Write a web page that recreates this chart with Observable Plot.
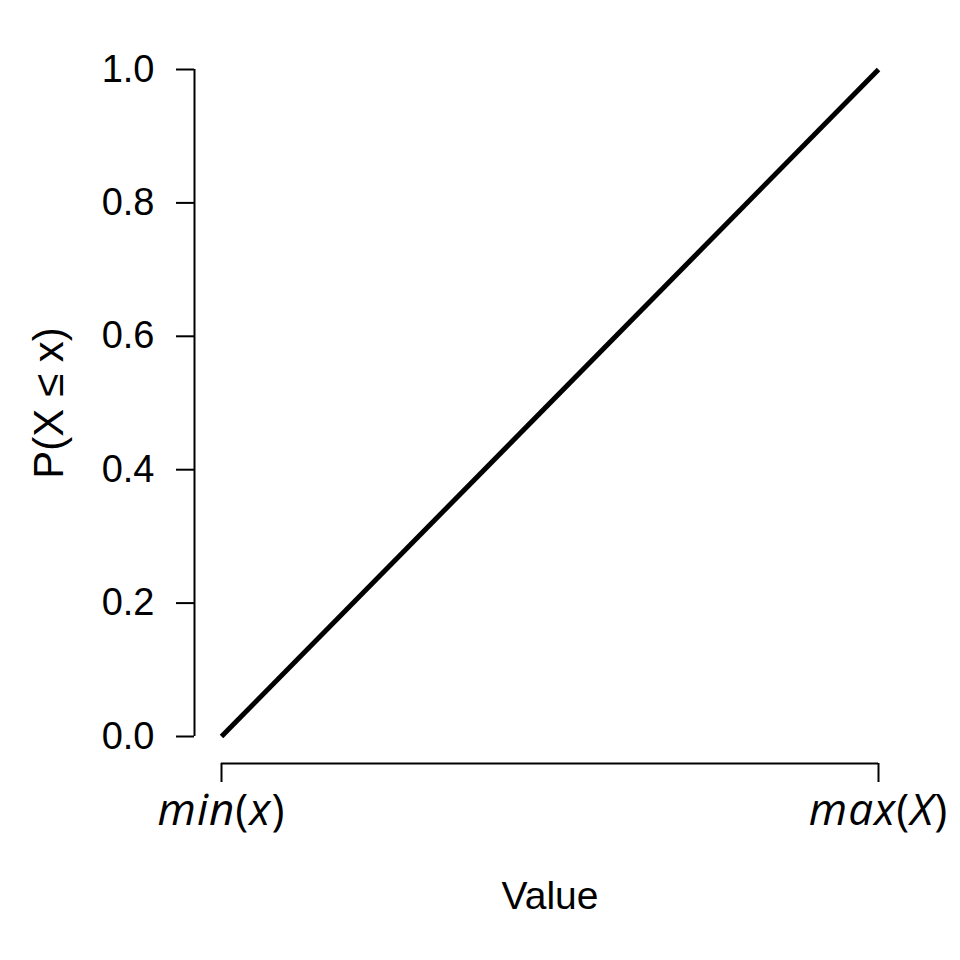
<!DOCTYPE html>
<html><head><meta charset="utf-8">
<script src="https://cdn.jsdelivr.net/npm/d3@7"></script>
<script src="https://cdn.jsdelivr.net/npm/@observablehq/plot@0.6"></script>
<style>body{margin:0;background:#fff;}</style>
</head><body>
<div id="chart"></div>
<script>
const lineX = [0, 1];
const lineY = [0, 1];
const xTicks = [0, 1];
const xTickLabels = [["min", "x"], ["max", "X"]];
const yTicks = [0, 0.2, 0.4, 0.6, 0.8, 1.0];
const xLabel = "Value";
const yLabel = "P(X ≤ x)";

const data = lineX.map((x, i) => ({x, y: lineY[i]}));

const chart = Plot.plot({
  width: 960, height: 960,
  marginLeft: 221, marginRight: 82, marginTop: 69, marginBottom: 224,
  x: {domain: [0, 1]},
  y: {domain: [0, 1]},
  style: {fontFamily: "'Liberation Sans', Arial, sans-serif", fontSize: "38px", background: "white", color: "black"},
  marks: [
    Plot.ruleX([0], {y1: 0, y2: 1, dx: -27, strokeWidth: 2}),
    Plot.axisY({ticks: yTicks, tickSize: 18, tickPadding: 22, dx: -27, tickFormat: d => d.toFixed(1), label: null, strokeWidth: 2, fontSize: 38}),
    Plot.ruleY([0], {x1: 0, x2: 1, dy: 27, strokeWidth: 2}),
    Plot.axisX({ticks: xTicks, tickSize: 19, tickPadding: 11, dy: 27, tickFormat: (d, i) => xTickLabels[i].join(""), label: null, strokeWidth: 2, fontSize: 44}),
    Plot.line(data, {x: "x", y: "y", stroke: "black", strokeWidth: 5, strokeLinecap: "butt"}),
    Plot.text([xLabel], {frameAnchor: "bottom", dy: 160, lineAnchor: "middle", fontSize: 39}),
    Plot.text([yLabel], {frameAnchor: "left", dx: -172, rotate: -90, textAnchor: "middle", lineAnchor: "middle", fontSize: 42, ariaLabel: "ylabel"})
  ]
});
document.getElementById("chart").appendChild(chart);

const svg = d3.select(chart);
svg.selectAll('g[aria-label="x-axis tick label"] text').each(function(d, i) {
  const t = d3.select(this);
  const parts = xTickLabels[i];
  t.text(null).style("font-family", "'Open Sans', sans-serif").style("letter-spacing", "1px");
  t.append("tspan").attr("font-style", "italic").text(parts[0]);
  t.append("tspan").text("(");
  t.append("tspan").attr("font-style", "italic").text(parts[1]);
  t.append("tspan").text(")");
});
svg.selectAll('g[aria-label="ylabel"] text').each(function() {
  const t = d3.select(this);
  t.text(null);
  t.append("tspan").text("P(");
  t.append("tspan").attr("font-style", "italic").attr("font-size", "46px").text("X");
  t.append("tspan").attr("font-size", "26px").text(" ≤ ");
  t.append("tspan").attr("font-style", "italic").attr("font-size", "46px").text("x");
  t.append("tspan").text(")");
});
</script>
</body></html>
